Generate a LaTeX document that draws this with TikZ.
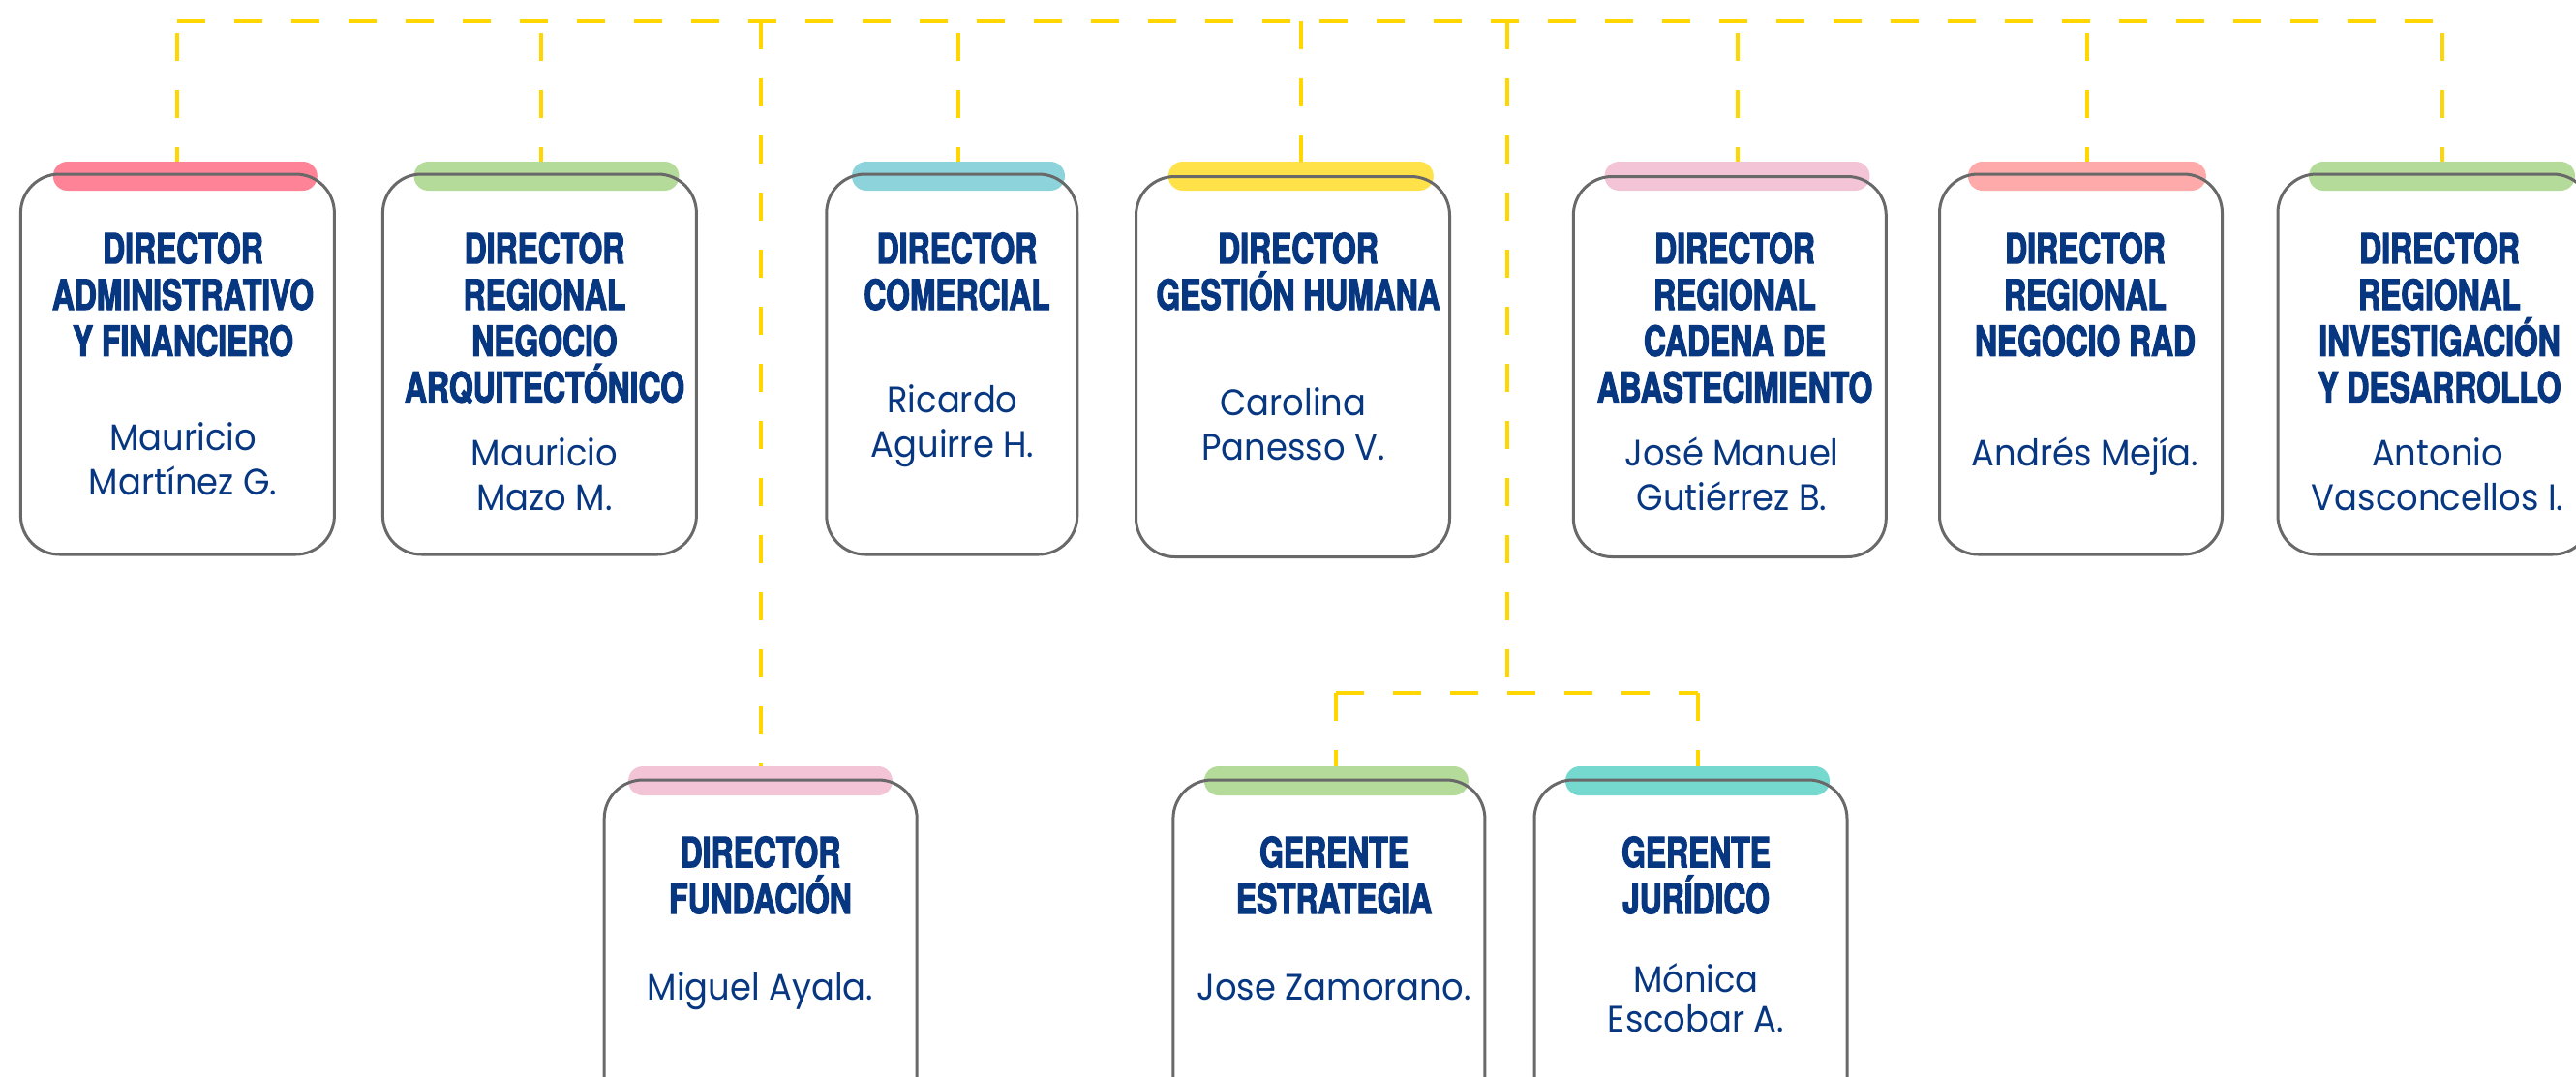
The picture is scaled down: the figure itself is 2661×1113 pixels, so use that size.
\documentclass[tikz,border=0pt]{standalone}
\usepackage{fontspec}
\newfontfamily\titlefont{TeX Gyre Heros}[FakeStretch=0.74,FakeBold=2.5]
\newfontfamily\namefont{Poppins}[FakeStretch=0.93]
\definecolor{navy}{RGB}{8,55,130}
\definecolor{dashy}{RGB}{255,214,0}
\definecolor{boxgray}{RGB}{105,105,105}
\definecolor{cpinkred}{RGB}{255,131,150}
\definecolor{cgreen}{RGB}{181,219,154}
\definecolor{cblue}{RGB}{140,211,219}
\definecolor{cyellow}{RGB}{255,225,74}
\definecolor{cpink}{RGB}{243,196,214}
\definecolor{csalmon}{RGB}{255,170,170}
\definecolor{cturq}{RGB}{118,217,207}
\newcommand\mystrut{\rule{0pt}{1.1em}}
\begin{document}
\begin{tikzpicture}[x=1pt,y=-1pt,
  bar/.style={fill=#1, draw=none, rounded corners=15pt, minimum height=30pt, inner sep=0pt},
  card/.style={draw=boxgray, line width=3pt, rounded corners=40pt, minimum height=393pt, inner sep=0pt},
  ttl/.style={font={\titlefont\bfseries\fontsize{43}{47.8}\selectfont}, text=navy, align=center, anchor=north, inner sep=0pt, yshift=47.3pt},
  nm/.style={font={\namefont\fontsize{38}{46}\selectfont}, text=navy, align=center, anchor=north, inner sep=0pt, yshift=41.8pt},
  conn/.style={draw=dashy, line width=4pt, dash pattern=on 29pt off 30pt}]
\useasboundingbox (0,0) rectangle (2661,1113);
\coordinate (top) at (0,22);
\coordinate (split) at (1557,716);
% colour bars
\node[bar=cpinkred, minimum width=273pt] (b1) at (191.3,182) {};
\node[bar=cgreen,   minimum width=274pt] (b2) at (564.5,182) {};
\node[bar=cblue,    minimum width=220pt] (b3) at (990,182) {};
\node[bar=cyellow,  minimum width=274pt] (b4) at (1343.8,182) {};
\node[bar=cpink,    minimum width=274pt] (b5) at (1794.5,182) {};
\node[bar=csalmon,  minimum width=246pt] (b6) at (2155.9,182) {};
\node[bar=cgreen,   minimum width=275pt] (b7) at (2522.5,182) {};
\node[bar=cpink,    minimum width=273pt] (bF) at (785.5,807) {};
\node[bar=cgreen,   minimum width=273pt] (bE) at (1380.4,807) {};
\node[bar=cturq,    minimum width=273pt] (bJ) at (1753.5,807) {};
% cards
\node[card, minimum width=324pt] (c1) at (183.4,376.5) {};
\node[card, minimum width=324pt] (c2) at (557.4,376.5) {};
\node[card, minimum width=259pt] (c3) at (983.3,376.5) {};
\node[card, minimum width=324pt] (c4) at (1335.5,379) {};
\node[card, minimum width=323pt] (c5) at (1786.8,379) {};
\node[card, minimum width=292pt] (c6) at (2149.5,376.5) {};
\node[card, minimum width=324pt] (c7) at (2515,376.5) {};
\node[card, minimum width=323pt] (cF) at (785.7,1002.5) {};
\node[card, minimum width=322pt] (cE) at (1372.9,1002.5) {};
\node[card, minimum width=323pt] (cJ) at (1746.5,1002.5) {};
% titles
\node[ttl] (t1) at (189,272) {\mystrut DIRECTOR\\ADMINISTRATIVO\\Y FINANCIERO};
\node[ttl] (t2) at (562.5,272) {\mystrut DIRECTOR\\REGIONAL\\NEGOCIO\\ARQUITECTÓNICO};
\node[ttl] (t3) at (988.5,272) {\mystrut DIRECTOR\\COMERCIAL};
\node[ttl] (t4) at (1341,272) {\mystrut DIRECTOR\\GESTIÓN HUMANA};
\node[ttl] (t5) at (1792,272) {\mystrut DIRECTOR\\REGIONAL\\CADENA DE\\ABASTECIMIENTO};
\node[ttl] (t6) at (2154,272) {\mystrut DIRECTOR\\REGIONAL\\NEGOCIO RAD};
\node[ttl] (t7) at (2520,272) {\mystrut DIRECTOR\\REGIONAL\\INVESTIGACIÓN\\Y DESARROLLO};
\node[ttl] (tF) at (785.5,896) {\mystrut DIRECTOR\\FUNDACIÓN};
\node[ttl] (tE) at (1378,896) {\mystrut GERENTE\\ESTRATEGIA};
\node[ttl] (tJ) at (1752,896) {\mystrut GERENTE\\JURÍDICO};
% names
\node[nm] (n1) at (189,465) {\mystrut Mauricio\\Martínez G.};
\node[nm] (n2) at (562.5,481.5) {\mystrut Mauricio\\Mazo M.};
\node[nm] (n3) at (984,426) {\mystrut Ricardo\\Aguirre H.};
\node[nm] (n4) at (1336,429) {\mystrut Carolina\\Panesso V.};
\node[nm] (n5) at (1789,481.5) {\mystrut José Manuel\\Gutiérrez B.};
\node[nm] (n6) at (2154,481.5) {\mystrut Andrés Mejía.};
\node[nm] (n7) at (2518,481.5) {\mystrut Antonio\\Vasconcellos I.};
\node[nm] (nF) at (785.5,1033) {\mystrut Miguel Ayala.};
\node[nm] (nE) at (1378,1033) {\mystrut Jose Zamorano.};
\node[nm, font={\namefont\fontsize{38}{41}\selectfont}] (nJ) at (1752,1025) {\mystrut Mónica\\Escobar A.};
% connectors
\draw[conn] ([xshift=-8.6pt]b1.north |- top) -- (b7.north |- top);
\draw[conn, dash phase=47pt] ([xshift=-8.6pt]b1.north |- top) -- ([xshift=-8.6pt]b1.north);
\draw[conn, dash phase=47pt] ([xshift=-5.3pt]b2.north |- top) -- ([xshift=-5.3pt]b2.north);
\draw[conn, dash phase=47pt] (b3.north |- top) -- (b3.north);
\draw[conn] (b4.north |- top) -- (b4.north);
\draw[conn, dash phase=47pt] (b5.north |- top) -- (b5.north);
\draw[conn, dash phase=47pt] (b6.north |- top) -- (b6.north);
\draw[conn, dash phase=47pt] (b7.north |- top) -- (b7.north);
\draw[conn] (bF.north |- top) -- (bF.north);
\draw[conn] (split |- top) -- (split);
\draw[conn] (bE.north |- split) -- (bJ.north |- split);
\draw[conn] (bE.north |- split) -- (bE.north);
\draw[conn] (bJ.north |- split) -- (bJ.north);
\end{tikzpicture}
\end{document}
